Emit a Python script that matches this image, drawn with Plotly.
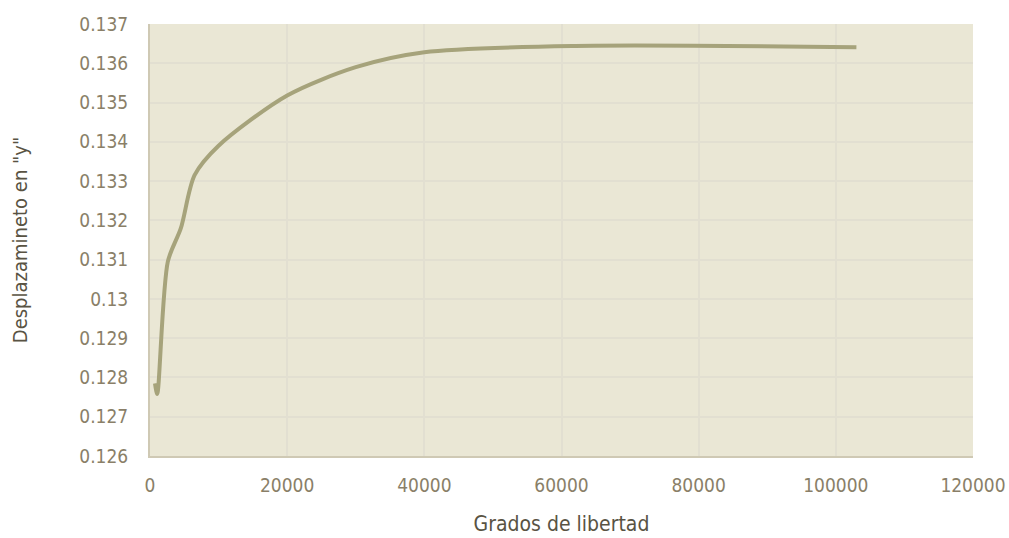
import plotly.graph_objects as go

grados = [730, 1050, 2600, 4500, 6500, 10000, 20000, 30000, 40000, 62000, 103000]
desplazamiento = [0.12785, 0.12758, 0.13095, 0.13180, 0.13315, 0.13390, 0.13518, 0.13590, 0.13628, 0.13644, 0.13641]

x_ticks = [0, 20000, 40000, 60000, 80000, 100000, 120000]
x_ticktext = ["0", "20000", "40000", "60000", "80000", "100000", "120000"]
y_ticks = [0.126, 0.127, 0.128, 0.129, 0.13, 0.131, 0.132, 0.133, 0.134, 0.135, 0.136, 0.137]
y_ticktext = ["0.126", "0.127", "0.128", "0.129", "0.13", "0.131", "0.132", "0.133", "0.134", "0.135", "0.136", "0.137"]

FONT = "DejaVu Sans Condensed, DejaVu Sans"
TICK_COLOR = "#8a7f68"
TITLE_COLOR = "#595343"
GRID = "#e2dfd1"
FS = 19

fig = go.Figure()
fig.add_trace(go.Scatter(
    x=grados, y=desplazamiento, mode="lines",
    line=dict(color="#a6a37b", width=4, shape="spline", smoothing=0.8),
    hoverinfo="x+y", showlegend=False,
))

fig.update_layout(
    width=1009, height=538,
    margin=dict(l=150, r=36, t=24, b=82, autoexpand=False),
    paper_bgcolor="white",
    plot_bgcolor="#eae7d5",
    font=dict(family=FONT, size=FS, color=TICK_COLOR),
)
fig.update_xaxes(
    range=[0, 120000], tickvals=x_ticks, ticktext=x_ticktext,
    showgrid=True, gridcolor=GRID, gridwidth=2,
    showline=True, linecolor="#cfc9b4", linewidth=2,
    zeroline=False, ticks="", ticklabelstandoff=11, automargin=False,
    tickfont=dict(family=FONT, size=FS, color=TICK_COLOR),
    title=dict(text="Grados de libertad", font=dict(family=FONT, size=21, color=TITLE_COLOR), standoff=22),
)
fig.update_yaxes(
    range=[0.126, 0.137], tickvals=y_ticks, ticktext=y_ticktext,
    showgrid=True, gridcolor=GRID, gridwidth=2,
    showline=True, linecolor="#cfc9b4", linewidth=2,
    zeroline=False, ticks="", ticklabelstandoff=16, automargin=False,
    tickfont=dict(family=FONT, size=FS, color=TICK_COLOR),
    title=dict(text='Desplazamineto en "y"', font=dict(family=FONT, size=20, color=TITLE_COLOR), standoff=46),
)

fig.write_html("out.html", config={"displayModeBar": False},
               post_script="document.body.style.margin='0';document.body.style.overflow='hidden';")
